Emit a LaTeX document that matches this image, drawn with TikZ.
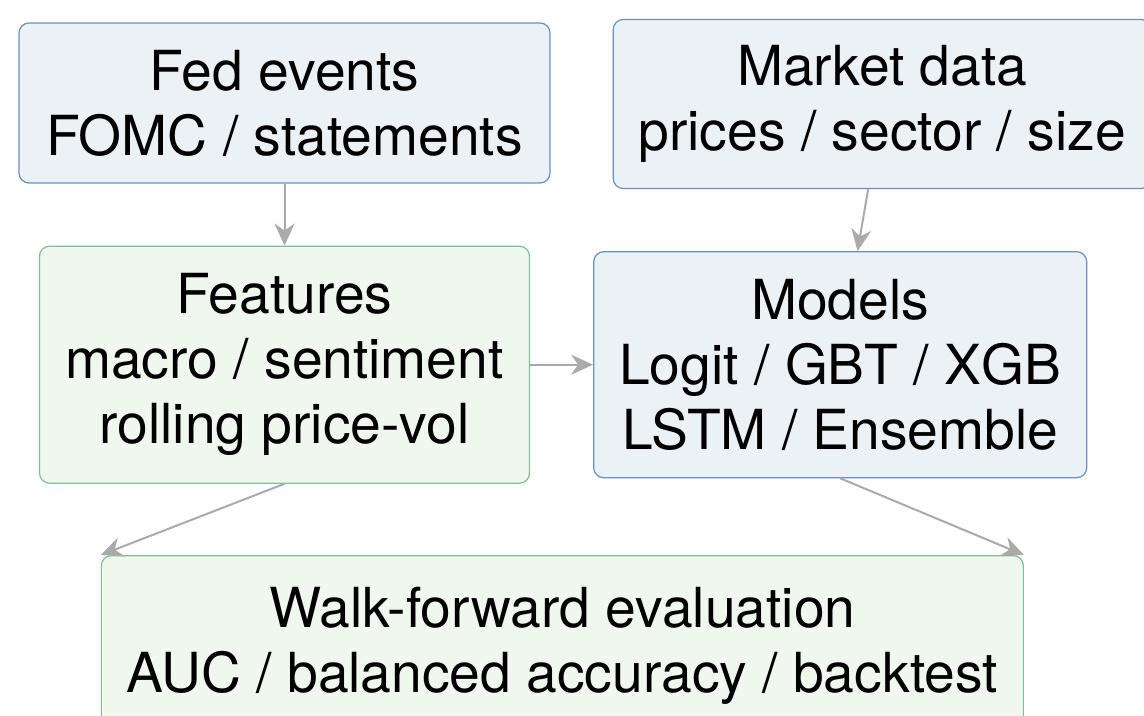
\documentclass[tikz,border=0pt]{standalone}
\usepackage{fontspec}
\setmainfont{TeX Gyre Heros}
\usetikzlibrary{positioning,arrows.meta,calc}

\definecolor{bluefill}{HTML}{ECF1F5}
\definecolor{blueline}{HTML}{6A8FC2}
\definecolor{greenfill}{HTML}{F0F7EE}
\definecolor{greenline}{HTML}{80BF98}
\definecolor{arrowgray}{HTML}{AAAAAA}

\begin{document}
\begin{tikzpicture}[x=0.5pt, y=-0.5pt, >={Stealth[length=11pt, width=10pt, inset=3.5pt]},
  box/.style={draw, rounded corners=5pt, align=center, inner sep=0pt, line width=0.6pt,
    font=\fontsize{27.6}{32.5}\selectfont},
  bluebox/.style={box, draw=blueline, fill=bluefill},
  greenbox/.style={box, draw=greenline, fill=greenfill},
  flow/.style={->, draw=arrowgray, line width=1pt}]
  \useasboundingbox (0,0) rectangle (1144,716);
  \clip (0,0) rectangle (1144,716);

  \node[bluebox, minimum width=265.5pt, minimum height=80pt] (Fed) at (284.5,103) {Fed events\\FOMC / statements};
  \node[greenbox, minimum width=245pt, minimum height=118.5pt, below=31pt of Fed] (Features) {Features\\macro / sentiment\\rolling price-vol};
  \node[bluebox, minimum width=246.5pt, minimum height=113pt, right=31.5pt of Features] (Models) {Models\\Logit / GBT / XGB\\LSTM / Ensemble};
  \node[bluebox, minimum width=269pt, minimum height=84.5pt, above=31pt of Models, xshift=21pt] (Market) {Market data\\prices / sector / size};
  \node[greenbox, minimum width=461pt, minimum height=90pt, below=37pt of $(Features.south)!0.5!(Models.south)$] (Walk) {Walk-forward evaluation\\AUC / balanced accuracy / backtest};

  \draw[flow] (Fed) -- (Features);
  \draw[flow] ($(Market.south west)!0.474!(Market.south east)$) -- ($(Models.north west)!0.535!(Models.north east)$);
  \draw[flow] (Features) -- (Models);
  \draw[flow] (Features.south) -- (Walk.north west);
  \draw[flow] (Models.south) -- (Walk.north east);
\end{tikzpicture}
\end{document}
